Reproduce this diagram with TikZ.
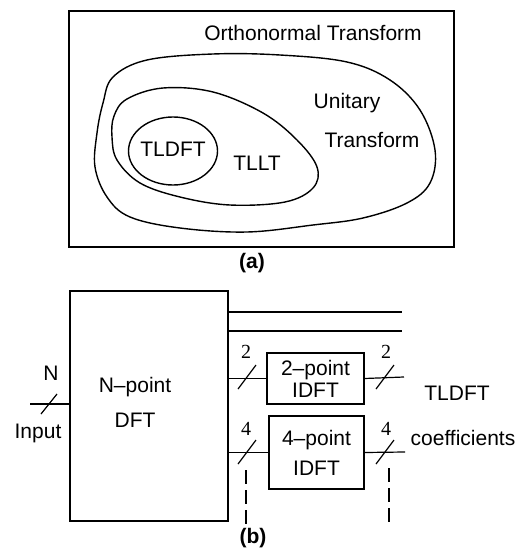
\documentclass[tikz,border=0pt]{standalone}
\usepackage{fontspec}
\setmainfont{Liberation Sans}
\newfontfamily\numfont{Liberation Serif}
\begin{document}
\begin{tikzpicture}[x=1pt,y=-1pt,
  txt/.style={font=\fontsize{21}{25}\selectfont, inner sep=0pt},
  num/.style={font=\numfont\fontsize{20}{24}\selectfont, inner sep=0pt},
  box/.style={draw, line width=1.2pt, inner sep=0pt, align=center, font=\fontsize{21}{25}\selectfont},
  blob/.style={line width=1.4pt},
  wire/.style={line width=1.2pt},
  dashline/.style={line width=1.1pt, dash pattern=on 14pt off 6pt}]
\useasboundingbox (0,0) rectangle (525,551);
% ---------- (a) ----------
\node[box, minimum width=385pt, minimum height=236pt] (ortho) at (261.5,129) {};
\node[txt] (orthotxt) at (313,33) {Orthonormal Transform};
\draw[blob] plot[smooth cycle, tension=0.6] coordinates {
  (113,77) (147,60) (213,54) (280,55) (347,62) (390,80) (420,110) (435,150) (430,183)
  (407,203) (363,218) (313,225) (247,232) (180,228) (130,217) (107,197) (95,167)
  (97,133) (103,103)};
\draw[blob] plot[smooth cycle, tension=0.6] coordinates {
  (127,99) (163,88) (213,92) (263,113) (297,140) (317,167) (313,188) (285,202)
  (230,205) (180,197) (140,183) (117,160) (112,137) (114,116)};
\draw[blob] (173,151) ellipse [x radius=44.5pt, y radius=34pt];
\node[txt] (tldfta) at (173,149) {TLDFT};
\node[txt] (tllt) at (257,163) {TLLT};
\node[txt] (unitary) at (347,103) {Unitary};
\node[txt] (transf) at (372,140) {Transform};
\node[txt, font=\bfseries\fontsize{21}{25}\selectfont] (capa) at (252,263) {(a)};
% ---------- (b) ----------
\node[box, minimum width=158pt, minimum height=230pt] (dft) at (149,406) {};
\node[txt, align=center] (dfttxt) at (135,402) {N--point\\[10pt]DFT};
\node[box, minimum width=97pt, minimum height=51pt] (idft2) at (315.5,378.5) {2--point\\[-3pt]IDFT};
\node[box, minimum width=95pt, minimum height=73pt] (idft4) at (316.5,452.5) {4--point\\[5pt]IDFT};
% input
\coordinate (inp) at (30,404);
\draw[wire] (inp) -- (inp -| dft.west);
\coordinate (sin) at (49,404);
\draw[wire] ([shift={(-8,10)}]sin) -- ([shift={(8,-10)}]sin);
\node[txt] (nlab) at (51,373) {N};
\node[txt] (inlab) at (38,433) {Input};
% top lines
\coordinate (t1) at (402,312);
\coordinate (t2) at (402,331);
\draw[wire] (t1 -| dft.east) -- (t1);
\draw[wire] (t2 -| dft.east) -- (t2);
% 2-point
\draw[wire] (dft.east |- idft2.west) -- (idft2.west);
\coordinate (s2a) at (247,377);
\draw[wire] ([shift={(-9,12)}]s2a) -- ([shift={(9,-12)}]s2a);
\node[num] (n2a) at (246,352) {2};
\coordinate (o2) at (404,377);
\draw[wire] (idft2.east) -- (o2);
\coordinate (s2b) at (385,377);
\draw[wire] ([shift={(-9,12)}]s2b) -- ([shift={(9,-12)}]s2b);
\node[num] (n2b) at (386,352) {2};
% 4-point
\draw[wire] (dft.east |- idft4.west) -- (idft4.west);
\coordinate (s4a) at (247,452);
\draw[wire] ([shift={(-9,12)}]s4a) -- ([shift={(9,-12)}]s4a);
\node[num] (n4a) at (246,429) {4};
\coordinate (o4) at (405,452);
\draw[wire] (idft4.east) -- (o4);
\coordinate (s4b) at (385,452);
\draw[wire] ([shift={(-9,12)}]s4b) -- ([shift={(9,-12)}]s4b);
\node[num] (n4b) at (386,429) {4};
% dashed
\coordinate (d1a) at (246,470);
\coordinate (d1b) at (246,527);
\coordinate (d2a) at (389,468);
\coordinate (d2b) at (389,527);
\draw[dashline] (d1a) -- (d1b);
\draw[dashline] (d2a) -- (d2b);
% output labels
\node[txt] (tldftb) at (457,393) {TLDFT};
\node[txt] (coef) at (463,438) {coefficients};
\node[txt, font=\bfseries\fontsize{21}{25}\selectfont] (capb) at (253,538) {(b)};
\end{tikzpicture}
\end{document}
